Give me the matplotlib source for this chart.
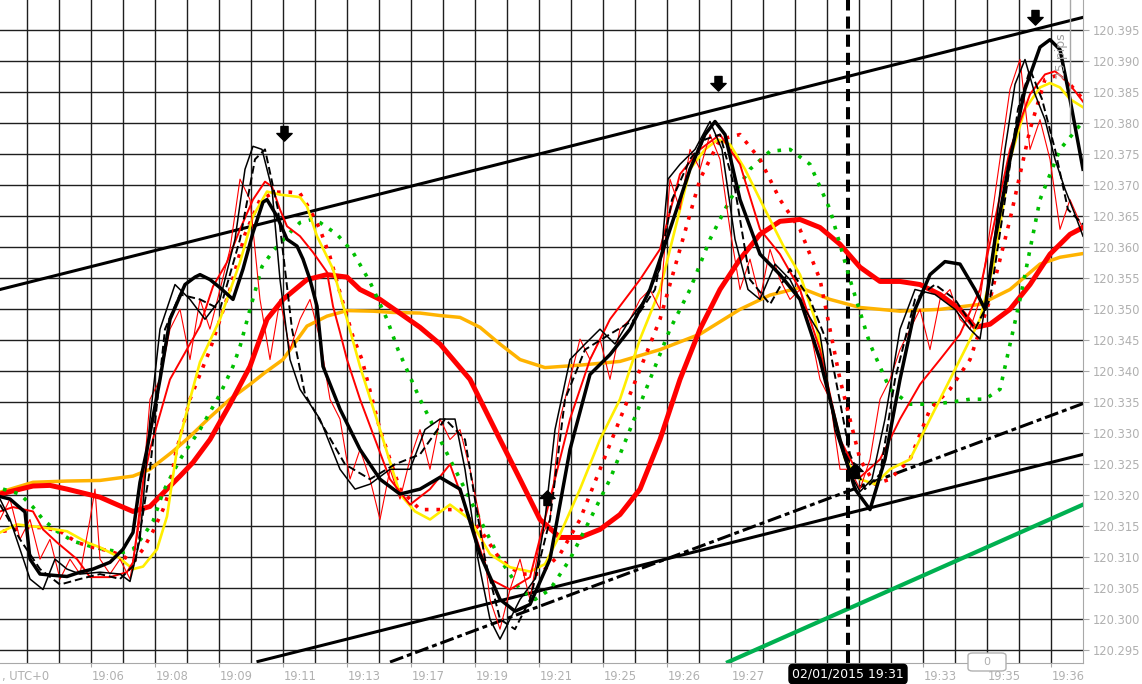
import numpy as np
import matplotlib
matplotlib.use('Agg')
import matplotlib.pyplot as plt
from matplotlib.path import Path
from matplotlib.patches import FancyBboxPatch

# time axis in bar units, prices in pipettes above 120.000
t_orange = [0, 3.3, 6.7, 10, 13.3, 15, 17.3, 19, 21, 23, 25, 26.5, 28.3, 30.7, 32.7, 34.7, 37.3, 39.3, 42, 44, 46,
            48, 50, 52, 54.5, 58, 62, 66, 70, 74, 77, 80, 83, 86, 90, 94, 98, 101, 104, 106, 108.3]
v_orange = [320.5, 322.1, 322.3, 322.4, 323.1, 324.2, 327.1, 329.5, 332.6, 335.5, 337.9, 339.8, 341.9, 347.3, 348.9,
            349.8, 349.7, 349.5, 349.4, 349.0, 348.7, 347.1, 344.4, 341.9, 340.6, 341.0, 341.6, 343.5, 346.0, 350.0,
            352.3, 353.5, 351.6, 350.3, 349.7, 350.0, 350.8, 353.2, 357.3, 358.4, 359.0]

t_red_slow = [0, 3.3, 5, 6.7, 10, 11.7, 13.3, 15, 16.7, 18, 19.3, 21, 23, 25, 26.7, 28.3, 30.7, 32.7, 34.7, 36, 38,
              39.7, 42, 44, 47, 50, 52, 54, 56, 58, 60, 62, 64, 66, 68, 70, 72, 74, 76, 78, 80, 82, 84, 86, 88, 90,
              92, 94, 96, 97.5, 99, 101, 103, 105, 107, 108.3]
v_red_slow = [320.2, 321.5, 321.6, 321.0, 319.7, 318.5, 317.4, 318.2, 321.0, 323.1, 325.3, 329.0, 334.7, 340.8,
              348.4, 351.6, 354.8, 355.6, 355.2, 353.2, 351.6, 349.7, 347.1, 344.4, 338.7, 329.0, 322.6, 316.1,
              313.2, 313.2, 314.5, 316.9, 321.0, 329.0, 338.7, 346.8, 353.2, 358.1, 362.1, 364.2, 364.5, 363.2,
              360.5, 356.8, 354.5, 354.5, 354.0, 352.4, 350.0, 347.1, 347.6, 350.0, 354.0, 358.9, 362.1, 363.2]

t_green = [0.3, 2, 3.3, 4.3, 5.7, 7.3, 9, 10.3, 12.3, 13.3, 14.3, 15.3, 16.3, 17.3, 18.2, 20, 22, 23.3, 24, 25,
           26.2, 27.3, 29, 30, 31.2, 32, 33.7, 35.3, 37, 38.7, 39.8, 42, 44, 46, 48, 50, 52, 53.5, 55, 57, 59, 61,
           63, 65, 67, 69, 71, 73, 75, 77, 79, 81, 83, 85, 87, 89, 91, 93, 95, 97, 98.5, 100, 102, 104, 106, 108.3]
v_green = [321.0, 320.2, 318.1, 316.1, 314.2, 312.6, 311.8, 311.3, 310.8, 311.3, 313.4, 315.8, 320.5, 323.7, 326.3,
           330.6, 336.3, 340.8, 344.0, 350.0, 356.9, 359.4, 362.4, 364.0, 364.5, 364.0, 362.1, 359.2, 354.4, 348.4,
           343.5, 335.5, 329.0, 322.6, 316.1, 309.7, 304.8, 303.2, 304.8, 309.7, 316.1, 322.6, 330.6, 338.7, 346.8,
           353.2, 361.3, 367.7, 372.6, 375.5, 375.8, 373.4, 366.1, 354.8, 344.4, 337.1, 334.7, 334.7, 335.0, 335.5,
           335.5, 337.1, 351.6, 367.7, 375.8, 380.3]

t_red_dot = [0.3, 2.7, 4.3, 6, 7.7, 9.3, 11, 12.3, 13.3, 14.3, 15.3, 16.3, 17, 17.5, 19, 21, 23, 24.5, 26, 27.5, 29,
             30, 31, 32, 33, 34, 35.3, 36.2, 38, 40, 42, 44, 46, 48, 50, 52, 54, 56, 58, 60, 62, 64, 66, 68, 70,
             72, 74, 76, 78, 80, 82, 84, 86, 87.5, 89, 91, 93, 95, 97, 99, 101, 103, 104.5, 106, 107, 108.3]
v_red_dot = [314.2, 314.8, 314.8, 314.2, 312.4, 311.6, 311.0, 310.2, 309.2, 311.3, 314.2, 317.7, 321.0, 326.3,
             335.5, 343.5, 353.2, 362.1, 367.7, 368.9, 368.9, 368.7, 366.1, 362.9, 358.5, 352.7, 345.6, 341.9,
             330.6, 321.0, 317.7, 317.7, 317.7, 314.5, 309.7, 307.3, 307.3, 310.5, 316.1, 324.2, 332.3, 340.3,
             348.4, 359.7, 371.0, 377.4, 378.2, 374.2, 367.7, 362.9, 354.8, 338.7, 325.8, 321.8, 322.6, 325.8,
             333.9, 337.1, 341.9, 351.6, 364.5, 379.0, 387.1, 387.9, 386.3, 383.9]

t_yellow = [0, 1.7, 4.3, 6.7, 8.7, 10, 11.7, 13.3, 14.3, 15.7, 16.7, 17.7, 19, 20, 22, 24, 25.3, 26.7, 28, 30, 30.7,
            31.7, 33.3, 34.7, 36, 38, 40, 41.5, 43, 45, 47, 49, 51, 53, 54.5, 56, 58, 60, 62, 64, 66, 67.5, 69,
            70.5, 71.8, 73, 74.5, 76.5, 78.5, 80, 81.5, 83, 84.5, 86, 87.5, 89, 91, 93, 95, 96.5, 98, 99.5, 101,
            102.5, 104, 105, 106, 107, 108.3]
v_yellow = [314.0, 315.3, 314.8, 314.2, 312.4, 311.6, 310.2, 308.1, 308.5, 311.3, 316.6, 327.4, 335.5, 341.5, 348.4,
            357.6, 365.0, 369.0, 368.5, 368.1, 366.6, 361.8, 356.5, 348.4, 340.8, 330.6, 320.2, 317.4, 316.1, 318.5,
            316.1, 310.5, 308.4, 307.7, 308.9, 313.7, 321.0, 329.0, 335.5, 345.2, 353.2, 362.9, 372.6, 375.8, 377.4,
            376.6, 372.6, 366.1, 359.7, 355.6, 348.4, 335.5, 325.8, 322.6, 321.8, 324.2, 325.8, 332.3, 338.7, 343.5,
            348.4, 358.1, 374.2, 382.3, 385.8, 386.5, 385.8, 383.9, 382.6]

t_red_mid = [0, 1.3, 3.3, 4.3, 5.7, 7.7, 9, 11, 12.7, 13.3, 13.7, 14.3, 15, 17, 20, 21.3, 22.7, 24, 25.3, 26.5, 27.2,
             28, 28.7, 30, 31.3, 32.7, 33.3, 34, 34.7, 36, 39, 41, 43, 45, 47, 49, 51, 53, 55, 57, 59, 61, 64, 66,
             68, 70, 72, 74, 76, 78, 80, 82, 84, 86, 88, 90, 92, 94, 96, 98, 99.5, 101, 103, 104.5, 105.5, 106.5,
             107.5, 108.3]
v_red_mid = [317.4, 318.1, 317.4, 314.5, 312.4, 309.7, 306.8, 306.8, 307.6, 309.2, 314.0, 322.1, 327.4, 338.7, 347.3,
             353.7, 357.6, 362.9, 367.7, 370.6, 369.8, 366.1, 363.4, 361.8, 359.2, 356.0, 350.5, 346.3, 341.9, 335.5,
             322.6, 318.5, 321.0, 325.0, 316.1, 306.5, 304.8, 306.8, 319.4, 332.3, 341.9, 348.4, 354.8, 359.7, 371.8,
             375.8, 378.2, 373.4, 362.9, 358.9, 353.2, 343.5, 329.0, 322.9, 325.8, 332.3, 337.9, 341.9, 346.0, 353.2,
             364.5, 375.8, 384.7, 387.9, 388.4, 387.1, 385.2, 383.5]

t_price = [0, 1, 2, 3, 4, 5, 6, 7, 8, 9, 9.5] + list(np.arange(10, 107.5, 1.0)) + [108.3]
v_price = [316.1, 319.4, 312.9, 316.1, 309.7, 312.9, 306.5, 309.7, 307.3, 316.1, 321.0, 309.7, 307.3, 309.7, 306.5,
           316.1, 335.5, 338.7, 346.8, 350.0, 341.9, 351.6, 346.8, 353.2, 359.7, 371.0, 367.7, 351.6, 341.9, 351.6,
           343.5, 348.4, 351.6, 345.2, 335.5, 332.3, 322.6, 327.4, 322.6, 316.1, 324.2, 319.4, 325.8, 330.6, 324.2,
           332.3, 329.0, 330.6, 324.2, 316.1, 303.2, 298.4, 304.8, 309.7, 303.2, 312.9, 316.1, 332.3, 338.7, 345.2,
           341.9, 345.2, 338.7, 346.8, 348.4, 351.6, 353.2, 350.0, 371.0, 366.1, 375.8, 372.6, 378.2, 374.2, 362.9,
           353.2, 358.1, 351.6, 359.7, 354.8, 351.6, 353.2, 346.8, 338.7, 335.5, 324.2, 324.2, 321.0, 325.8, 335.5,
           338.7, 343.5, 346.8, 350.0, 343.5, 351.6, 353.2, 348.4, 346.8, 351.6, 362.9, 374.2, 385.5, 390.3, 375.8,
           380.6, 374.2, 362.9, 367.7, 362.9]

t_black_thick = [0, 1, 2.5, 3, 4, 5.3, 6.7, 8, 9.3, 11, 12.3, 13.3, 14, 14.7, 16, 17, 18.5, 19.5, 20, 21, 22, 23.3,
                 24.3, 25.3, 26.3, 26.7, 27.7, 28.7, 29.7, 30.3, 31, 31.7, 32.3, 34, 36, 38, 40, 42, 44, 46, 48, 50,
                 51.5, 53, 55, 57, 59, 61, 63, 65, 67, 69, 70.5, 71.5, 72.5, 74, 76, 78, 80, 82, 84, 85.5, 87, 88.5,
                 90, 91.5, 93, 94.5, 96, 97.5, 98.5, 99.5, 101, 102.5, 104, 105, 106, 107, 108.3]
v_black_thick = [319.8, 319.4, 317.3, 309.7, 307.3, 307.1, 306.9, 307.6, 308.1, 309.2, 311.3, 314.0, 322.1, 327.4,
                 338.7, 348.4, 354.0, 355.2, 355.6, 354.8, 353.5, 351.6, 356.5, 362.4, 367.3, 367.7, 365.0, 361.3,
                 360.2, 358.1, 354.8, 350.5, 340.8, 333.9, 327.4, 322.6, 320.2, 321.0, 322.9, 321.0, 310.5, 303.2,
                 301.3, 302.4, 309.7, 327.4, 339.5, 342.7, 346.8, 353.2, 362.9, 372.6, 378.2, 380.3, 378.2, 367.7,
                 358.9, 355.6, 351.6, 341.9, 329.0, 321.0, 317.7, 325.8, 338.7, 350.0, 355.6, 357.7, 357.3, 353.2,
                 350.0, 361.3, 374.2, 385.5, 392.3, 393.5, 391.9, 383.9, 372.6]

t_black_thin = [0, 1, 2, 3, 4.3, 5.5, 6.7, 8, 10, 12, 13, 14, 15, 16, 17.5, 19, 20.5, 22, 23.5, 24.5, 25.3, 26.2,
                27.2, 28, 29, 30, 32, 34, 35.5, 37, 39, 41, 42.5, 44, 45.5, 46.5, 47.8, 49, 50, 51, 52, 53.5, 54.5,
                55.5, 57, 58.5, 60, 61.5, 63, 64.5, 66, 66.8, 68, 69.5, 71, 72.2, 73.5, 74.8, 76, 77.5, 79, 80.5, 82,
                83.5, 84.8, 86, 87.2, 88.5, 90, 91.5, 93.5, 95.5, 97, 98, 99.2, 100.5, 101.5, 102.5, 103.5, 104.5,
                105.5, 106.5, 107.5, 108.3]
v_black_thin = [319.4, 316.1, 311.3, 306.5, 304.8, 309.7, 308.1, 307.3, 307.6, 307.3, 306.1, 312.9, 332.3, 346.8,
                354.0, 351.6, 348.4, 351.6, 361.3, 372.6, 376.3, 375.8, 369.4, 354.8, 341.9, 337.1, 332.3, 324.2,
                321.0, 321.8, 324.2, 324.2, 330.6, 332.3, 332.3, 324.2, 309.7, 300.0, 296.8, 300.0, 303.2, 306.5,
                316.1, 330.6, 341.9, 344.4, 346.8, 344.4, 348.4, 351.6, 356.5, 371.0, 373.4, 375.8, 380.3, 375.8,
                361.3, 353.2, 351.6, 357.3, 354.8, 350.0, 346.0, 330.6, 324.2, 320.6, 322.6, 332.3, 346.8, 353.2,
                352.4, 350.0, 346.8, 345.2, 358.1, 375.8, 386.3, 390.3, 384.7, 380.6, 374.2, 369.4, 365.3, 361.8]

t_black_dash = [0, 2, 4, 6, 8, 10, 12, 13.5, 15, 16.5, 18, 20, 22, 24, 25.5, 26.5, 27.8, 29.2, 30.5, 32.5, 34.5, 37,
                39.5, 42, 44.5, 46.5, 48.5, 50, 51.5, 53, 55, 56.5, 58.5, 61, 63.5, 65.5, 67.2, 69, 70.5, 72, 73.5,
                75, 77, 79, 81, 83, 85, 86.5, 88, 89.5, 91.5, 93.5, 95.5, 97.5, 99, 100.5, 101.8, 103, 104.2, 105.5,
                106.8, 108.3]
v_black_dash = [318.5, 312.9, 308.1, 305.6, 306.5, 307.3, 306.5, 308.9, 324.2, 346.8, 352.4, 351.6, 350.0, 361.3,
                374.2, 375.8, 366.1, 346.8, 336.3, 330.6, 325.0, 322.6, 325.0, 326.6, 332.3, 329.0, 309.7, 300.0,
                298.4, 303.2, 316.1, 335.5, 343.5, 346.0, 348.4, 353.2, 367.7, 374.2, 377.4, 378.2, 369.4, 354.8,
                350.8, 356.5, 351.6, 343.5, 326.6, 321.0, 323.4, 338.7, 351.6, 354.0, 351.6, 346.8, 351.6, 367.7,
                382.3, 388.7, 383.9, 375.8, 366.1, 363.7]

# channel / trend lines (end points)
t_upper, v_upper = [0, 108.3], [353.2, 397.1]
t_lower, v_lower = [25.8, 108.3], [293.2, 326.6]
t_dashdot, v_dashdot = [39.0, 108.3], [293.1, 334.8]
t_green_line, v_green_line = [72.8, 108.3], [293.1, 318.5]

# signal arrows
t_arrow_down, v_arrow_down = [28.4, 71.8, 103.5], [378.5, 386.5, 397.1]
t_arrow_up, v_arrow_up = [54.7, 85.5], [319.5, 323.9]

tick_pos = [9.13 + 6.4 * k for k in range(16)]
tick_labels = ['19:06', '19:08', '19:09', '19:11', '19:13', '19:17', '19:19', '19:21',
               '19:25', '19:26', '19:27', '', '', '19:33', '19:35', '19:36']
price_ticks = np.arange(295, 400, 5)


def p(v):
    return 120 + np.asarray(v) / 1000.0


fig = plt.figure(figsize=(11.42, 6.84), dpi=100)
ax = fig.add_axes([0, 1 - 663 / 684, 1083 / 1142, 663 / 684])
ax.set_xlim(0, 108.3)
ax.set_ylim(p(292.95), p(399.9))

grid_c = '#1e1e1e'
for gx in np.arange(2.73, 108.3, 3.2):
    ax.axvline(gx, color=grid_c, lw=1.0, zorder=0)
for gy in price_ticks:
    ax.axhline(p(gy), color=grid_c, lw=1.0, zorder=0)

# trend lines
ax.plot(t_upper, p(v_upper), color='black', lw=2.2, zorder=2)
ax.plot(t_lower, p(v_lower), color='black', lw=2.2, zorder=2)
ax.plot(t_dashdot, p(v_dashdot), color='black', lw=2.2, dashes=(4.6, 1.3, 1.6, 1.3), zorder=2)
ax.plot(t_green_line, p(v_green_line), color='#00b050', lw=3, zorder=2)
ax.axvline(84.8, color='black', lw=2.9, dashes=(3, 1.5), zorder=2)

# moving averages
ax.plot(t_orange, p(v_orange), color='#ffb300', lw=2.5, zorder=3)
ax.plot(t_red_slow, p(v_red_slow), color='#ff0000', lw=3.6, zorder=3)
ax.plot(t_green, p(v_green), color='#00c000', lw=2.6, linestyle=(0, (1, 2.2)), zorder=4)
ax.plot(t_red_dot, p(v_red_dot), color='#ff0000', lw=2.6, linestyle=(0, (1, 2.2)), zorder=4)
ax.plot(t_yellow, p(v_yellow), color='#ffee00', lw=1.9, zorder=5)
ax.plot(t_red_mid, p(v_red_mid), color='#ff0000', lw=1.4, zorder=5)
ax.plot(t_price, p(v_price), color='#ff0000', lw=0.8, zorder=5)
ax.plot(t_black_thin, p(v_black_thin), color='black', lw=1.1, zorder=6)
ax.plot(t_black_dash, p(v_black_dash), color='black', lw=1.4, dashes=(4, 2), zorder=6)
ax.plot(t_black_thick, p(v_black_thick), color='black', lw=2.5, zorder=6)

# arrows
down = Path([(-0.28, 0.55), (0.28, 0.55), (0.28, 0.0), (0.6, 0.0), (0, -0.6), (-0.6, 0.0), (-0.28, 0.0),
             (-0.28, 0.55)], [1, 2, 2, 2, 2, 2, 2, 79])
up = Path([(-0.28, -0.55), (0.28, -0.55), (0.28, 0.0), (0.6, 0.0), (0, 0.6), (-0.6, 0.0), (-0.28, 0.0),
           (-0.28, -0.55)], [1, 2, 2, 2, 2, 2, 2, 79])
ax.plot(t_arrow_down, p(v_arrow_down), linestyle='none', marker=down, markersize=11, color='black', zorder=8)
ax.plot(t_arrow_up, p(v_arrow_up), linestyle='none', marker=up, markersize=11, color='black', zorder=8)

# measuring tool
ax.plot([107.0, 107.0], [p(378.5), p(400)], color='#a8a8a8', lw=1, zorder=7)
ax.text(106.2, p(390.8), '25 pips', rotation=90, color='#a0a0a0', fontsize=9, ha='center', va='center', zorder=7)

# axes styling
for s in ['top', 'left']:
    ax.spines[s].set_visible(False)
for s in ['right', 'bottom']:
    ax.spines[s].set_color('#a8a8a8')
ax.yaxis.tick_right()
ax.set_yticks(p(price_ticks))
ax.set_yticklabels(['%.3f' % v for v in p(price_ticks)])
ax.set_xticks(tick_pos)
ax.set_xticklabels(tick_labels, ha='left')
ax.tick_params(axis='y', colors='#a8a8a8', labelcolor='#b0b0b0', labelsize=8.3, length=4, pad=3)
ax.tick_params(axis='x', colors='#a8a8a8', labelcolor='#b0b0b0', labelsize=8.3, length=3, pad=2)
ax.annotate(', UTC+0', xy=(0.2, 0), xycoords=('data', 'axes fraction'), xytext=(0, -5),
            textcoords='offset points', ha='left', va='top', fontsize=8.3, color='#b0b0b0',
            annotation_clip=False)

fig.text(848 / 1142, 1 - 674 / 684, '02/01/2015 19:31', ha='center', va='center', color='white', fontsize=9,
         bbox=dict(boxstyle='round,pad=0.25,rounding_size=0.3', fc='black', ec='black'), zorder=10)
fig.patches.append(FancyBboxPatch((968 / 1142, 1 - 671 / 684), 38 / 1142, 18 / 684, transform=fig.transFigure,
                                  boxstyle='round,pad=0,rounding_size=0.004', fc='white', ec='#b0b0b0', lw=1,
                                  zorder=10))
fig.text(987 / 1142, 1 - 662 / 684, '0', ha='center', va='center', color='#b0b0b0', fontsize=8, zorder=11)

fig.savefig('out.png', dpi=100)
